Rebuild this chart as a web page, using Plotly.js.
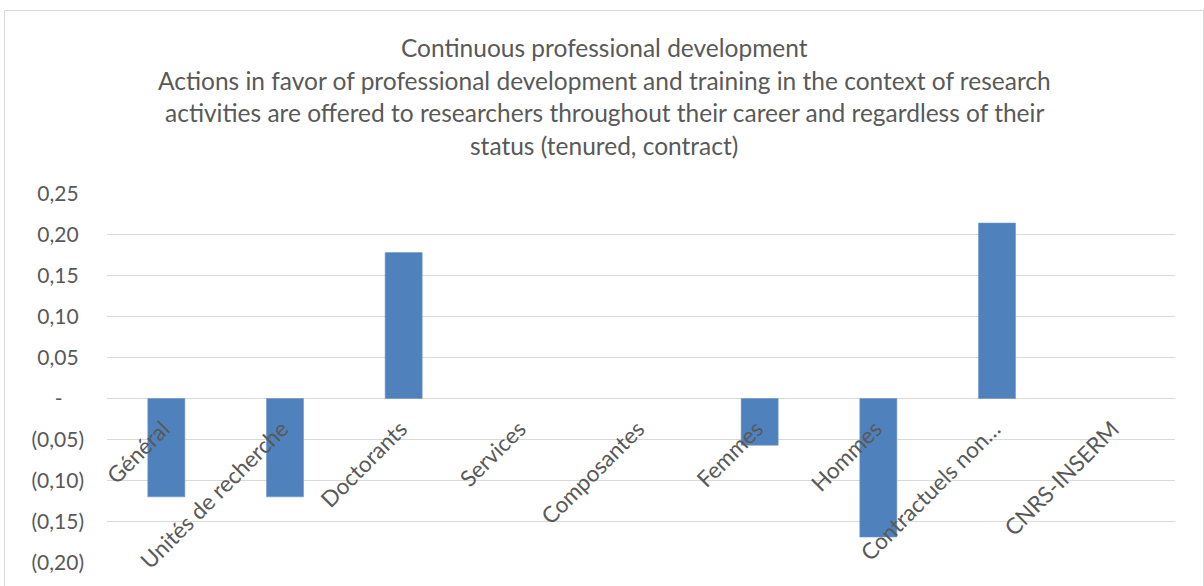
<!DOCTYPE html>
<html>
<head>
<meta charset="utf-8">
<script src="https://cdn.plot.ly/plotly-3.0.1.min.js"></script>
<style>
  html, body { margin: 0; padding: 0; background: #fff; }
  #chart { width: 1204px; height: 586px; }
</style>
</head>
<body>
<div id="chart"></div>
<script>
// chart values
const categories = ['Général', 'Unités de recherche', 'Doctorants', 'Services', 'Composantes',
  'Femmes', 'Hommes', 'Contractuels non…', 'CNRS-INSERM'];
const values = [-0.12, -0.12, 0.178, null, null, -0.057, -0.169, 0.214, null];

const yTickVals = [-0.20, -0.15, -0.10, -0.05, 0, 0.05, 0.10, 0.15, 0.20, 0.25];
const yTickText = ['(0,20)', '(0,15)', '(0,10)', '(0,05)', '-\u00a0\u00a0\u00a0\u00a0',
  '0,05\u00a0', '0,10\u00a0', '0,15\u00a0', '0,20\u00a0', '0,25\u00a0'];

const titleLines = [
  'Continuous professional development',
  'Actions in favor of professional development and training in the context of research',
  'activities are offered to researchers throughout their career and regardless of their',
  'status (tenured, contract)'
];

const textColor = '#595959';
const gridColor = '#D9D9D9';
const font = 'Lato, "Open Sans", sans-serif';

// plot area in pixels, used to place title lines and the frame
const plotTop = 193, plotBottom = 563, plotLeft = 107, plotRight = 1175;
const yRange = [-0.2007, 0.2507];

function paperY(px) { return (plotBottom - px) / (plotBottom - plotTop); }
function paperX(px) { return (px - plotLeft) / (plotRight - plotLeft); }

const titleCenters = [47.5, 80, 112.5, 145];
const annotations = titleLines.map((t, i) => ({
  text: t,
  xref: 'paper', yref: 'paper',
  x: paperX(604), y: paperY(titleCenters[i]),
  xanchor: 'center', yanchor: 'middle',
  showarrow: false,
  font: {family: font, size: 24.5, color: textColor}
}));

const trace = {
  type: 'bar',
  x: categories,
  y: values,
  marker: {color: '#4F81BD', line: {color: '#6F97C8', width: 0.6}},
  hoverinfo: 'x+y'
};

const layout = {
  width: 1204,
  height: 586,
  margin: {l: plotLeft, r: 1204 - plotRight, t: plotTop, b: 586 - plotBottom, pad: 0},
  paper_bgcolor: '#fff',
  plot_bgcolor: '#fff',
  showlegend: false,
  bargap: 0.688,
  font: {family: font, size: 21, color: textColor},
  xaxis: {
    type: 'category',
    anchor: 'free',
    position: (0 - yRange[0]) / (yRange[1] - yRange[0]),
    showgrid: false,
    showline: false,
    zeroline: false,
    ticks: '',
    tickangle: -45,
    ticklabelstandoff: 12,
    ticklabelshift: -3,
    automargin: false,
    tickfont: {family: font, size: 22.5, color: textColor}
  },
  yaxis: {
    range: yRange,
    tickvals: yTickVals,
    ticktext: yTickText,
    showgrid: true,
    gridcolor: gridColor,
    gridwidth: 1,
    zeroline: true,
    zerolinecolor: gridColor,
    zerolinewidth: 1,
    showline: false,
    ticks: '',
    ticklabelstandoff: 22,
    automargin: false,
    tickfont: {family: font, size: 21, color: textColor}
  },
  annotations: annotations,
  shapes: [{
    type: 'rect',
    xref: 'paper', yref: 'paper',
    x0: paperX(4.5), x1: paperX(1203.5),
    y0: paperY(600), y1: paperY(10.5),
    line: {color: gridColor, width: 1},
    fillcolor: 'rgba(0,0,0,0)',
    layer: 'below'
  }]
};

Plotly.newPlot('chart', [trace], layout, {displayModeBar: false, staticPlot: true});
</script>
</body>
</html>
